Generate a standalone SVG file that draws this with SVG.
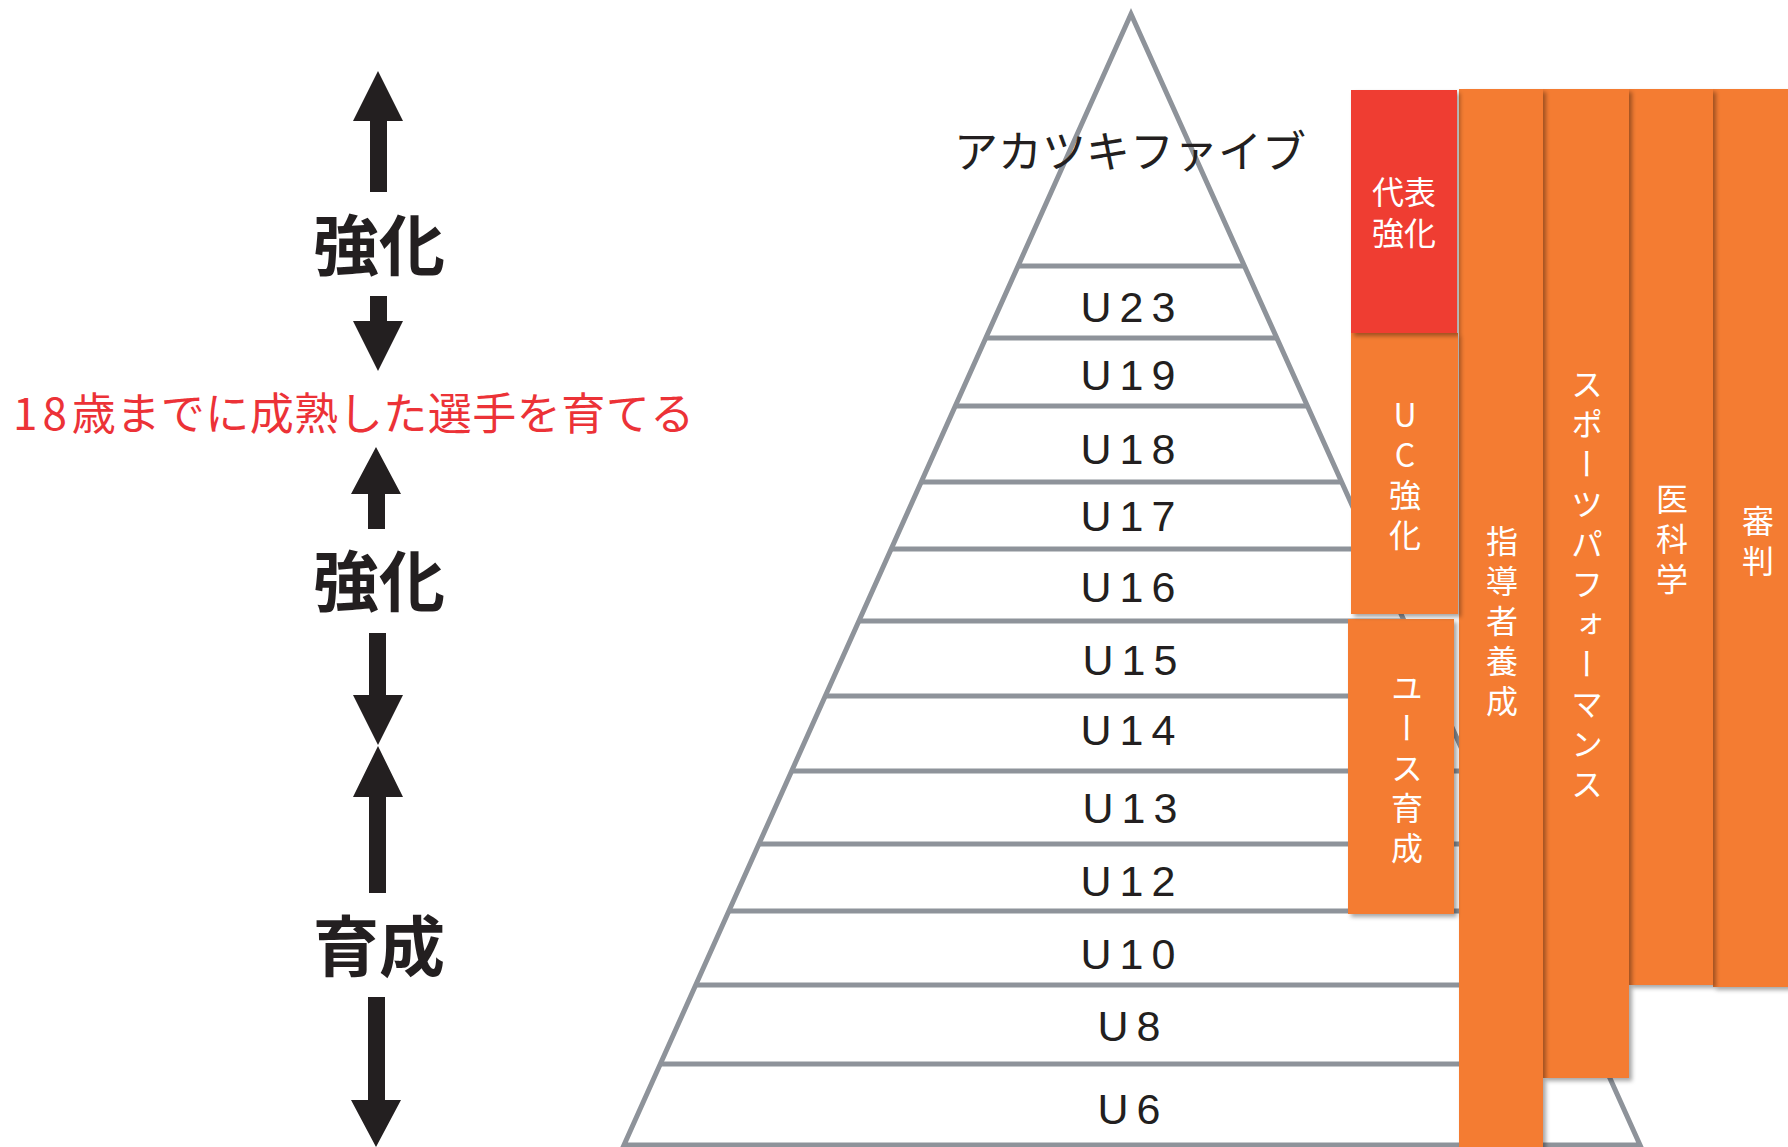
<svg xmlns="http://www.w3.org/2000/svg" width="1788" height="1147" viewBox="0 0 1788 1147">
<defs>
<style>
.jp{font-family:"Noto Sans CJK JP","Noto Sans",sans-serif}
.big{font-family:"Noto Sans CJK JP",sans-serif;font-weight:bold;font-size:66px;fill:#231F20;text-anchor:middle}
.u{font-family:"Liberation Sans","Noto Sans",sans-serif;font-size:43px;fill:#231F20;text-anchor:middle;letter-spacing:8px}
.ln{stroke:#8E939A;stroke-width:5;fill:none}
.arr{fill:#231F20}
.box{fill:#F47B32}
.red{fill:#EF3E30}
.wt{font-family:"Noto Sans CJK JP",sans-serif;font-size:32px;fill:#FFFFFF}
.vt{font-family:"Noto Sans CJK JP",sans-serif;font-size:32px;fill:#FFFFFF;writing-mode:vertical-rl;text-orientation:upright;letter-spacing:8px}
</style>
<filter id="sh" x="-20%" y="-10%" width="140%" height="120%">
<feDropShadow dx="3" dy="3" stdDeviation="2" flood-color="#000" flood-opacity="0.35"/>
</filter>
</defs>
<rect width="1788" height="1147" fill="#FFFFFF"/>

<g id="connectors">
<polygon class="arr" points="378,71 403,121 387,121 387,192 370,192 370,121 353,121"/>
<polygon class="arr" points="370,296 387,296 387,321 403,321 378,371 353,321 370,321"/>
<polygon class="arr" points="376,447 401,494 385,494 385,529 368,529 368,494 351,494"/>
<polygon class="arr" points="369,633 386,633 386,695 403,695 378,745 353,695 369,695"/>
<polygon class="arr" points="378,746 403,797 386,797 386,893 369,893 369,797 353,797"/>
<polygon class="arr" points="368,997 385,997 385,1100 401,1100 376,1147 351,1100 368,1100"/>
</g>

<g id="label-kyoka1"><text class="big" x="379" y="270">強化</text></g>
<g id="label-target"><text class="jp" x="13" y="430" font-size="44" fill="#EC3237"><tspan letter-spacing="5">18</tspan><tspan letter-spacing="0.5">歳までに成熟した選手を育てる</tspan></text></g>
<g id="label-kyoka2"><text class="big" x="379" y="606">強化</text></g>
<g id="label-ikusei"><text class="big" x="379" y="971">育成</text></g>

<g id="pyramid">
<polygon class="ln" points="1131,14 1640,1145 624,1145"/>
<line class="ln" x1="1018" y1="266" x2="1244" y2="266"/>
<line class="ln" x1="986" y1="338" x2="1276" y2="338"/>
<line class="ln" x1="955" y1="406" x2="1307" y2="406"/>
<line class="ln" x1="921" y1="482" x2="1341" y2="482"/>
<line class="ln" x1="891" y1="549" x2="1371" y2="549"/>
<line class="ln" x1="859" y1="621" x2="1403" y2="621"/>
<line class="ln" x1="826" y1="696" x2="1436" y2="696"/>
<line class="ln" x1="792" y1="771" x2="1470" y2="771"/>
<line class="ln" x1="759" y1="844" x2="1503" y2="844"/>
<line class="ln" x1="729" y1="911" x2="1533" y2="911"/>
<line class="ln" x1="697" y1="985" x2="1565" y2="985"/>
<line class="ln" x1="661" y1="1064" x2="1601" y2="1064"/>
</g>

<g id="node-akatsuki"><text class="jp" x="1130" y="168" font-size="44" fill="#231F20" text-anchor="middle">アカツキファイブ</text></g>
<g id="node-u23"><text class="u" x="1132" y="322">U23</text></g>
<g id="node-u19"><text class="u" x="1132" y="390">U19</text></g>
<g id="node-u18"><text class="u" x="1132" y="464">U18</text></g>
<g id="node-u17"><text class="u" x="1132" y="531">U17</text></g>
<g id="node-u16"><text class="u" x="1132" y="602">U16</text></g>
<g id="node-u15"><text class="u" x="1134" y="675">U15</text></g>
<g id="node-u14"><text class="u" x="1132" y="745">U14</text></g>
<g id="node-u13"><text class="u" x="1134" y="823">U13</text></g>
<g id="node-u12"><text class="u" x="1132" y="896">U12</text></g>
<g id="node-u10"><text class="u" x="1132" y="969">U10</text></g>
<g id="node-u8"><text class="u" x="1133" y="1041">U8</text></g>
<g id="node-u6"><text class="u" x="1133" y="1124">U6</text></g>

<g id="node-shinpan">
<rect class="box" x="1713" y="89" width="80" height="898" filter="url(#sh)"/>
<text class="vt" x="1758" y="505">審判</text>
</g>
<g id="node-ikagaku">
<rect class="box" x="1629" y="89" width="84" height="896" filter="url(#sh)"/>
<text class="vt" x="1672" y="483">医科学</text>
</g>
<g id="node-sports">
<rect class="box" x="1543" y="89" width="86" height="989" filter="url(#sh)"/>
<text class="vt" x="1587" y="368">スポーツパフォーマンス</text>
</g>
<g id="node-shidosha">
<rect class="box" x="1459" y="89" width="84" height="1062" filter="url(#sh)"/>
<text class="vt" x="1502" y="525">指導者養成</text>
</g>
<g id="node-youth">
<rect class="box" x="1348" y="619" width="106" height="295" filter="url(#sh)"/>
<text class="vt" x="1407" y="672">ユース育成</text>
</g>
<g id="node-uc">
<rect class="box" x="1351" y="333" width="107" height="281" filter="url(#sh)"/>
<text class="vt" x="1405" y="399">UC強化</text>
</g>
<g id="node-daihyo">
<rect class="red" x="1351" y="90" width="106" height="243" filter="url(#sh)"/>
<text class="wt" text-anchor="middle"><tspan x="1404" y="204">代表</tspan><tspan x="1404" y="245">強化</tspan></text>
</g>
</svg>
